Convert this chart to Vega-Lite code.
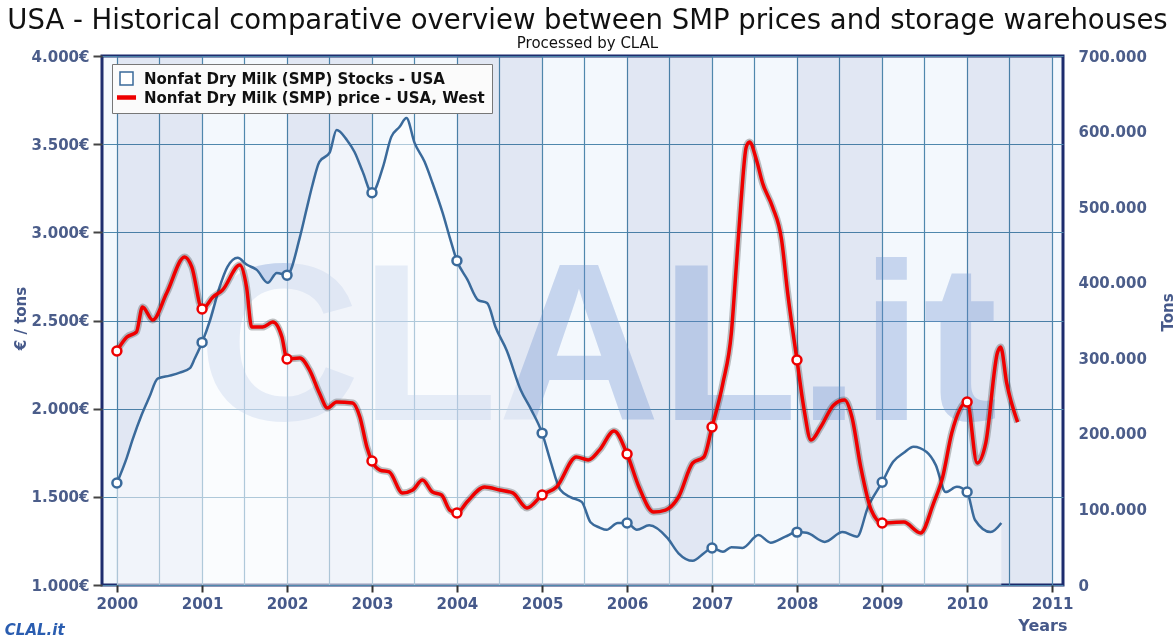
{
  "$schema": "https://vega.github.io/schema/vega-lite/v6.json",
  "width": 961,
  "height": 529,
  "autosize": "none",
  "padding": {"left": 102, "top": 56, "right": 112, "bottom": 55},
  "background": "#ffffff",
  "config": {
    "view": {"fill": "#f3f8fd", "stroke": "#1d2c6e", "strokeWidth": 3},
    "font": "DejaVu Sans"
  },
  "title": {
    "text": "USA - Historical comparative overview between SMP prices and storage warehouses",
    "subtitle": "Processed by CLAL",
    "anchor": "middle",
    "frame": "group",
    "dx": 5,
    "offset": -2,
    "font": "DejaVu Sans",
    "fontSize": 27.5,
    "fontWeight": "normal",
    "color": "#111111",
    "subtitleFont": "DejaVu Sans",
    "subtitleFontSize": 15,
    "subtitleColor": "#111111",
    "subtitlePadding": 2
  },
  "datasets": {
    "bands": [
      {"start": "2000-01-01", "end": "2001-01-01"},
      {"start": "2002-01-01", "end": "2003-01-01"},
      {"start": "2004-01-01", "end": "2005-01-01"},
      {"start": "2006-01-01", "end": "2007-01-01"},
      {"start": "2008-01-01", "end": "2009-01-01"},
      {"start": "2010-01-01", "end": "2011-01-01"}
    ],
    "stocks": [
      {"date": "2000-01-01", "tons": 135000},
      {"date": "2000-02-13", "tons": 169000},
      {"date": "2000-03-08", "tons": 192000},
      {"date": "2000-04-16", "tons": 225000},
      {"date": "2000-05-20", "tons": 249000},
      {"date": "2000-06-24", "tons": 273000},
      {"date": "2000-08-15", "tons": 277000},
      {"date": "2000-09-27", "tons": 281000},
      {"date": "2000-11-10", "tons": 287000},
      {"date": "2000-12-01", "tons": 300000},
      {"date": "2001-01-01", "tons": 321000},
      {"date": "2001-02-05", "tons": 351000},
      {"date": "2001-03-17", "tons": 394000},
      {"date": "2001-04-20", "tons": 421000},
      {"date": "2001-06-03", "tons": 433000},
      {"date": "2001-07-11", "tons": 424000},
      {"date": "2001-08-24", "tons": 417000},
      {"date": "2001-10-10", "tons": 400000},
      {"date": "2001-11-18", "tons": 413000},
      {"date": "2002-01-01", "tons": 410000},
      {"date": "2002-02-25", "tons": 460000},
      {"date": "2002-03-25", "tons": 496000},
      {"date": "2002-04-20", "tons": 529000},
      {"date": "2002-05-20", "tons": 560000},
      {"date": "2002-07-03", "tons": 572000},
      {"date": "2002-08-02", "tons": 602000},
      {"date": "2002-09-15", "tons": 589000},
      {"date": "2002-10-18", "tons": 573000},
      {"date": "2002-11-22", "tons": 547000},
      {"date": "2003-01-01", "tons": 519000},
      {"date": "2003-02-17", "tons": 553000},
      {"date": "2003-03-25", "tons": 593000},
      {"date": "2003-04-29", "tons": 606000},
      {"date": "2003-05-29", "tons": 618000},
      {"date": "2003-07-03", "tons": 585000},
      {"date": "2003-08-15", "tons": 560000},
      {"date": "2003-09-18", "tons": 532000},
      {"date": "2003-11-01", "tons": 492000},
      {"date": "2003-12-01", "tons": 460000},
      {"date": "2004-01-01", "tons": 429000},
      {"date": "2004-02-15", "tons": 404000},
      {"date": "2004-04-01", "tons": 377000},
      {"date": "2004-05-10", "tons": 373000},
      {"date": "2004-06-15", "tons": 341000},
      {"date": "2004-08-01", "tons": 311000},
      {"date": "2004-10-01", "tons": 258000},
      {"date": "2004-11-15", "tons": 232000},
      {"date": "2005-01-01", "tons": 201000},
      {"date": "2005-02-05", "tons": 165000},
      {"date": "2005-03-20", "tons": 126000},
      {"date": "2005-05-05", "tons": 116000},
      {"date": "2005-06-20", "tons": 110000},
      {"date": "2005-07-28", "tons": 83000},
      {"date": "2005-09-05", "tons": 76000},
      {"date": "2005-10-05", "tons": 73000},
      {"date": "2005-11-22", "tons": 82000},
      {"date": "2006-01-01", "tons": 82000},
      {"date": "2006-02-12", "tons": 73000},
      {"date": "2006-04-06", "tons": 79000},
      {"date": "2006-06-24", "tons": 62000},
      {"date": "2006-08-10", "tons": 42000},
      {"date": "2006-10-10", "tons": 32000},
      {"date": "2006-11-27", "tons": 42000},
      {"date": "2007-01-01", "tons": 49000},
      {"date": "2007-02-17", "tons": 44000},
      {"date": "2007-03-25", "tons": 50000},
      {"date": "2007-05-12", "tons": 49000},
      {"date": "2007-07-20", "tons": 66000},
      {"date": "2007-09-10", "tons": 56000},
      {"date": "2007-11-12", "tons": 64000},
      {"date": "2008-01-01", "tons": 70000},
      {"date": "2008-02-12", "tons": 69000},
      {"date": "2008-04-29", "tons": 57000},
      {"date": "2008-07-15", "tons": 70000},
      {"date": "2008-09-15", "tons": 64000},
      {"date": "2008-11-01", "tons": 103000},
      {"date": "2009-01-01", "tons": 136000},
      {"date": "2009-02-17", "tons": 163000},
      {"date": "2009-04-04", "tons": 175000},
      {"date": "2009-05-16", "tons": 183000},
      {"date": "2009-07-11", "tons": 176000},
      {"date": "2009-08-19", "tons": 159000},
      {"date": "2009-10-01", "tons": 123000},
      {"date": "2009-11-18", "tons": 130000},
      {"date": "2010-01-01", "tons": 123000},
      {"date": "2010-02-04", "tons": 86000},
      {"date": "2010-04-12", "tons": 70000},
      {"date": "2010-05-28", "tons": 82000}
    ],
    "price": [
      {"date": "2000-01-01", "eur": 2327},
      {"date": "2000-02-13", "eur": 2406},
      {"date": "2000-03-25", "eur": 2435},
      {"date": "2000-04-20", "eur": 2577},
      {"date": "2000-06-03", "eur": 2503},
      {"date": "2000-08-02", "eur": 2656},
      {"date": "2000-10-18", "eur": 2860},
      {"date": "2000-11-18", "eur": 2803},
      {"date": "2001-01-01", "eur": 2565},
      {"date": "2001-02-17", "eur": 2633},
      {"date": "2001-03-30", "eur": 2673},
      {"date": "2001-06-12", "eur": 2815},
      {"date": "2001-07-11", "eur": 2690},
      {"date": "2001-08-02", "eur": 2463},
      {"date": "2001-09-18", "eur": 2463},
      {"date": "2001-11-01", "eur": 2491},
      {"date": "2001-12-10", "eur": 2406},
      {"date": "2002-01-01", "eur": 2282},
      {"date": "2002-02-25", "eur": 2287},
      {"date": "2002-04-08", "eur": 2219},
      {"date": "2002-05-20", "eur": 2089},
      {"date": "2002-06-24", "eur": 2004},
      {"date": "2002-08-02", "eur": 2038},
      {"date": "2002-10-10", "eur": 2032},
      {"date": "2002-11-10", "eur": 1953},
      {"date": "2002-12-10", "eur": 1783},
      {"date": "2003-01-01", "eur": 1703},
      {"date": "2003-02-04", "eur": 1652},
      {"date": "2003-03-16", "eur": 1641},
      {"date": "2003-05-12", "eur": 1522},
      {"date": "2003-06-25", "eur": 1539},
      {"date": "2003-08-06", "eur": 1595},
      {"date": "2003-09-18", "eur": 1527},
      {"date": "2003-10-27", "eur": 1510},
      {"date": "2003-12-01", "eur": 1425},
      {"date": "2004-01-01", "eur": 1408},
      {"date": "2004-02-13", "eur": 1471},
      {"date": "2004-04-29", "eur": 1556},
      {"date": "2004-07-03", "eur": 1539},
      {"date": "2004-08-28", "eur": 1522},
      {"date": "2004-10-28", "eur": 1437},
      {"date": "2005-01-01", "eur": 1510},
      {"date": "2005-03-04", "eur": 1556},
      {"date": "2005-05-28", "eur": 1726},
      {"date": "2005-07-18", "eur": 1709},
      {"date": "2005-09-05", "eur": 1766},
      {"date": "2005-11-06", "eur": 1873},
      {"date": "2006-01-01", "eur": 1743},
      {"date": "2006-02-21", "eur": 1556},
      {"date": "2006-04-25", "eur": 1414},
      {"date": "2006-06-15", "eur": 1425},
      {"date": "2006-08-10", "eur": 1499},
      {"date": "2006-10-10", "eur": 1692},
      {"date": "2006-11-27", "eur": 1726},
      {"date": "2007-01-01", "eur": 1896},
      {"date": "2007-02-17", "eur": 2146},
      {"date": "2007-03-25", "eur": 2429},
      {"date": "2007-04-15", "eur": 2803},
      {"date": "2007-05-06", "eur": 3183},
      {"date": "2007-05-28", "eur": 3484},
      {"date": "2007-06-11", "eur": 3512},
      {"date": "2007-07-11", "eur": 3410},
      {"date": "2007-08-06", "eur": 3280},
      {"date": "2007-09-18", "eur": 3144},
      {"date": "2007-10-27", "eur": 2957},
      {"date": "2007-11-22", "eur": 2656},
      {"date": "2008-01-01", "eur": 2276},
      {"date": "2008-02-01", "eur": 1992},
      {"date": "2008-03-01", "eur": 1822},
      {"date": "2008-04-12", "eur": 1896},
      {"date": "2008-06-07", "eur": 2021},
      {"date": "2008-07-24", "eur": 2049},
      {"date": "2008-08-24", "eur": 1953},
      {"date": "2008-10-01", "eur": 1669},
      {"date": "2008-11-15", "eur": 1425},
      {"date": "2009-01-01", "eur": 1352},
      {"date": "2009-04-04", "eur": 1357},
      {"date": "2009-06-15", "eur": 1295},
      {"date": "2009-08-10", "eur": 1465},
      {"date": "2009-09-18", "eur": 1612},
      {"date": "2009-10-27", "eur": 1862},
      {"date": "2010-01-01", "eur": 2038},
      {"date": "2010-02-13", "eur": 1692},
      {"date": "2010-03-22", "eur": 1805},
      {"date": "2010-05-12", "eur": 2321},
      {"date": "2010-05-25", "eur": 2350},
      {"date": "2010-06-20", "eur": 2146},
      {"date": "2010-08-06", "eur": 1924}
    ]
  },
  "layer": [
    {
      "layer": [
        {
          "data": {"name": "bands"},
          "mark": {"type": "rect", "fill": "#eceef5", "blend": "multiply"},
          "encoding": {
            "x": {
              "field": "start",
              "type": "temporal",
              "scale": {"type": "utc", "domain": [{"year": 1999, "month": 10, "date": 29, "utc": true}, {"year": 2011, "month": 2, "date": 17, "utc": true}]},
              "axis": {
                "title": "Years",
                "grid": true,
                "gridColor": "#4f88ad",
                "gridWidth": 1.2,
                "tickCount": {"interval": "month", "step": 6},
                "labelExpr": "utcmonth(datum.value) === 0 ? utcFormat(datum.value, '%Y') : ''",
                "labelOverlap": false,
                "labelFlush": false,
                "tickOpacity": {"condition": {"test": "utcmonth(datum.value) !== 0", "value": 0}, "value": 1},
                "domain": false,
                "tickColor": "#333333",
                "tickSize": 7,
                "tickWidth": 2,
                "labelFont": "DejaVu Sans",
                "labelFontWeight": "bold",
                "labelFontSize": 15,
                "labelColor": "#46598a",
                "labelPadding": 4,
                "titleFont": "DejaVu Sans",
                "titleFontWeight": "bold",
                "titleFontSize": 16,
                "titleColor": "#46598a",
                "titleAlign": "right",
                "titleBaseline": "alphabetic",
                "titleX": 965,
                "titleY": 45
              }
            },
            "x2": {"field": "end"}
          }
        },
        {
          "data": {"values": [{"label": "CLAL.it"}]},
          "mark": {"type": "text", "font": "Liberation Sans", "fontWeight": "bold", "fontSize": 225, "align": "center", "baseline": "alphabetic", "fill": "#6b8fcf", "opacity": 0.32},
          "encoding": {
            "x": {"datum": {"year": 2005, "month": 8, "date": 28, "utc": true}, "type": "temporal", "title": "Years"},
            "y": {"datum": 218000, "type": "quantitative", "title": "Tons"},
            "text": {"field": "label"}
          }
        },
        {
          "data": {"values": [{"label": "CLAL.it"}]},
          "mark": {"type": "text", "font": "DejaVu Sans", "fontWeight": "bold", "fontStyle": "italic", "fontSize": 15, "align": "center", "baseline": "middle", "fill": "#2a5db0"},
          "encoding": {
            "x": {"datum": {"year": 1999, "month": 1, "date": 13, "utc": true}, "type": "temporal", "title": "Years"},
            "y": {"datum": -59500, "type": "quantitative", "title": "Tons"},
            "text": {"field": "label"}
          }
        },
        {
          "data": {"name": "stocks"},
          "mark": {"type": "area", "interpolate": "monotone", "fill": "#ffffff", "opacity": 0.55},
          "encoding": {
            "x": {"field": "date", "type": "temporal", "title": "Years"},
            "y": {
              "field": "tons",
              "type": "quantitative",
              "scale": {"domain": [0, 700000]},
              "axis": {
                "orient": "right",
                "title": "Tons",
                "values": [0, 100000, 200000, 300000, 400000, 500000, 600000, 700000],
                "labelExpr": "replace(format(datum.value, ',d'), ',', '.')",
                "grid": false,
                "domain": false,
                "ticks": false,
                "labelPadding": 15,
                "labelFont": "DejaVu Sans",
                "labelFontWeight": "bold",
                "labelFontSize": 15,
                "labelColor": "#4b5d8a",
                "titleFont": "DejaVu Sans",
                "titleFontWeight": "bold",
                "titleFontSize": 15,
                "titleColor": "#46598a",
                "titleAngle": 270,
                "titleAlign": "center",
                "titleBaseline": "middle",
                "titleX": 104,
                "titleY": 256
              }
            }
          }
        },
        {
          "data": {"name": "stocks"},
          "mark": {"type": "line", "interpolate": "monotone", "strokeWidth": 2.5},
          "encoding": {
            "x": {"field": "date", "type": "temporal", "title": "Years"},
            "y": {"field": "tons", "type": "quantitative", "title": "Tons"},
            "color": {
              "datum": "Nonfat Dry Milk (SMP) Stocks - USA",
              "type": "nominal",
              "scale": {"domain": ["Nonfat Dry Milk (SMP) Stocks - USA", "Nonfat Dry Milk (SMP) price - USA, West"], "range": ["#3a6a9b", "#ee0000"]},
              "legend": {
                "orient": "none",
                "legendX": 10,
                "legendY": 8,
                "title": null,
                "fillColor": "#fbfbfb",
                "strokeColor": "#777777",
                "padding": 7,
                "rowPadding": 2,
                "labelFont": "DejaVu Sans",
                "labelFontWeight": "bold",
                "labelFontSize": 15,
                "labelColor": "#111111",
                "labelLimit": 600,
                "labelOffset": 10,
                "symbolSize": 169,
                "encode": {
                  "symbols": {
                    "update": {
                      "shape": {"signal": "datum.value === 'Nonfat Dry Milk (SMP) Stocks - USA' ? 'square' : 'M-1.35,-0.23H1.35V0.23H-1.35Z'"},
                      "fill": {"signal": "datum.value === 'Nonfat Dry Milk (SMP) Stocks - USA' ? '#ffffff' : '#ee0000'"},
                      "stroke": {"signal": "datum.value === 'Nonfat Dry Milk (SMP) Stocks - USA' ? '#000000' : '#ee0000'"},
                      "strokeWidth": {"value": 1.5},
                      "opacity": {"value": 1}
                    }
                  }
                }
              }
            }
          }
        },
        {
          "data": {"name": "stocks"},
          "transform": [{"filter": "utcmonth(toDate(datum.date)) === 0 && utcdate(toDate(datum.date)) === 1"}],
          "mark": {"type": "point", "shape": "circle", "filled": true, "fill": "#ffffff", "stroke": "#3a6a9b", "strokeWidth": 2.5, "size": 80, "opacity": 1},
          "encoding": {
            "x": {"field": "date", "type": "temporal", "title": "Years"},
            "y": {"field": "tons", "type": "quantitative", "title": "Tons"}
          }
        }
      ]
    },
    {
      "layer": [
        {
          "data": {"name": "price"},
          "mark": {"type": "line", "interpolate": "monotone", "stroke": "#333333", "strokeWidth": 7, "opacity": 0.3},
          "encoding": {
            "x": {"field": "date", "type": "temporal", "title": "Years"},
            "y": {
              "field": "eur",
              "type": "quantitative",
              "scale": {"domain": [1000, 4000]},
              "axis": {
                "orient": "left",
                "title": "€ / tons",
                "values": [1000, 1500, 2000, 2500, 3000, 3500, 4000],
                "labelExpr": "replace(format(datum.value, ',d'), ',', '.') + '€'",
                "grid": true,
                "gridColor": "#4f88ad",
                "gridWidth": 1.2,
                "domain": false,
                "tickColor": "#444444",
                "tickSize": 9,
                "tickWidth": 2,
                "labelPadding": 4,
                "labelFont": "DejaVu Sans",
                "labelFontWeight": "bold",
                "labelFontSize": 15,
                "labelColor": "#4b5d8a",
                "titleFont": "DejaVu Sans",
                "titleFontWeight": "bold",
                "titleFontSize": 15,
                "titleColor": "#46598a",
                "titleAngle": 270,
                "titleAlign": "center",
                "titleBaseline": "middle",
                "titleX": -82,
                "titleY": 262
              }
            }
          }
        },
        {
          "data": {"name": "price"},
          "mark": {"type": "line", "interpolate": "monotone", "strokeWidth": 3.5},
          "encoding": {
            "x": {"field": "date", "type": "temporal", "title": "Years"},
            "y": {"field": "eur", "type": "quantitative", "title": "€ / tons"},
            "color": {"datum": "Nonfat Dry Milk (SMP) price - USA, West", "type": "nominal"}
          }
        },
        {
          "data": {"name": "price"},
          "transform": [{"filter": "utcmonth(toDate(datum.date)) === 0 && utcdate(toDate(datum.date)) === 1"}],
          "mark": {"type": "point", "shape": "circle", "filled": true, "fill": "#ffffff", "stroke": "#ee0000", "strokeWidth": 2.5, "size": 80, "opacity": 1},
          "encoding": {
            "x": {"field": "date", "type": "temporal", "title": "Years"},
            "y": {"field": "eur", "type": "quantitative", "title": "€ / tons"}
          }
        }
      ]
    }
  ],
  "resolve": {"scale": {"y": "independent"}}
}
